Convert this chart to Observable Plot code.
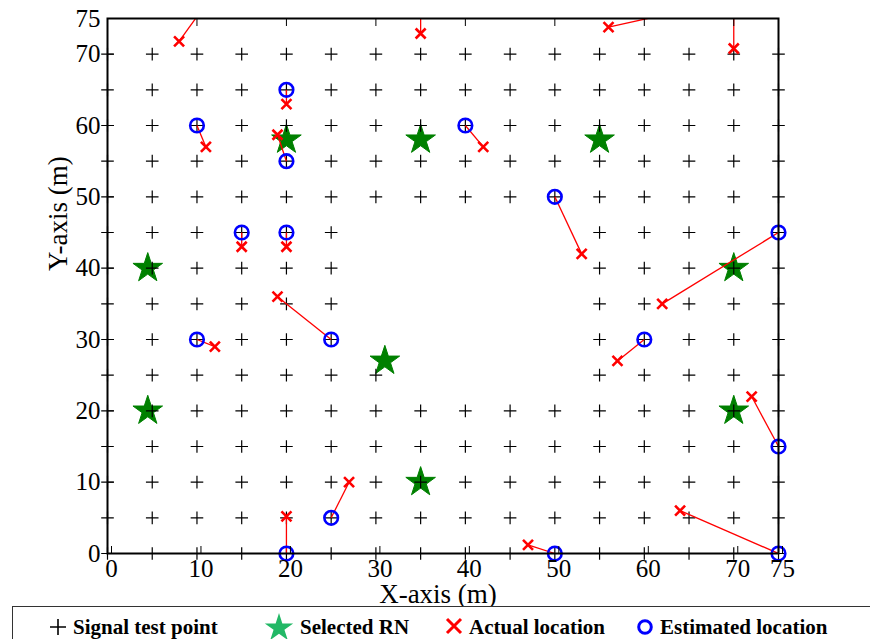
<!DOCTYPE html>
<html>
<head>
<meta charset="utf-8">
<script src="https://cdn.jsdelivr.net/npm/d3@7"></script>
<script src="https://cdn.jsdelivr.net/npm/@observablehq/plot@0.6"></script>
<style>
  html, body { margin: 0; padding: 0; background: #fff; }
  body { width: 870px; height: 639px; overflow: hidden; position: relative; font-family: 'Liberation Serif', serif; }
  #chart { position: absolute; left: 0; top: 0; }
  #chart svg text { font-family: 'Liberation Serif', serif; }
  #legend { position: absolute; left: 12px; top: 606px; width: 900px; height: 60px; border: 1.5px solid #333; box-sizing: border-box; background: #fff; }
  .item { position: absolute; top: 0; height: 40px; display: flex; align-items: center; }
  .item span { font-family: 'Liberation Serif', serif; font-weight: bold; font-size: 21px; color: #000; margin-left: 6px; white-space: nowrap; }
</style>
</head>
<body>
<div id="chart"></div>
<div id="legend"></div>
<script>
// Axis ticks (m)
const xTickValues = [0, 10, 20, 30, 40, 50, 60, 70, 75];
const yTickValues = [0, 10, 20, 30, 40, 50, 60, 70, 75];

// Signal test point grid (m)
const gridX = [0, 5, 10, 15, 20, 25, 30, 35, 40, 45, 50, 55, 60, 65, 70, 75];
const gridY = [0, 5, 10, 15, 20, 25, 30, 35, 40, 45, 50, 55, 60, 65, 70];
// Cells without a test point (open area)
const emptyX = [30, 35, 40, 45, 50, 30, 35, 40, 45, 50, 30, 35, 40, 45, 50, 30, 35, 40, 45, 50, 35, 40, 45, 50];
const emptyY = [45, 45, 45, 45, 45, 40, 40, 40, 40, 40, 35, 35, 35, 35, 35, 30, 30, 30, 30, 30, 25, 25, 25, 25];

// Selected reference nodes
const rnX = [4.5, 4.5, 20, 35, 55, 70, 70, 31, 35];
const rnY = [40, 20, 58, 58, 58, 40, 20, 27, 10];

// Actual and estimated locations of the test targets
const actualX = [8, 11, 20, 19, 42, 35, 56, 70, 53, 15, 20, 19, 12, 62, 57, 72, 64, 47, 27, 20];
const actualY = [71.8, 57, 63, 58.7, 57, 72.9, 73.8, 70.8, 42, 43, 43, 36, 29, 35, 27, 22, 6, 1.2, 10, 5.2];
const estX = [11, 10, 20, 20, 40, 35, 64, 70, 50, 15, 20, 25, 10, 75, 60, 75, 75, 50, 25, 20];
const estY = [77, 60, 65, 55, 60, 78, 76, 78, 50, 45, 45, 30, 30, 45, 30, 15, 0, 0, 5, 0];

const empty = new Set(emptyX.map((x, i) => `${x},${emptyY[i]}`));
const testPoints = [];
for (const x of gridX) for (const y of gridY) if (!empty.has(`${x},${y}`)) testPoints.push({x, y});
const nodes = rnX.map((x, i) => ({x, y: rnY[i]}));
const pairs = actualX.map((x, i) => ({ax: x, ay: actualY[i], ex: estX[i], ey: estY[i]}));

const RED = "#ff0000", BLUE = "#0000ff", GREEN = "#008000", LEGEND_GREEN = "#22b866";
const SERIF = "'Liberation Serif', serif";

// Stroked plus and times markers
const plusSymbol = {
  draw(ctx, size) {
    const r = Math.sqrt(size / Math.PI);
    ctx.moveTo(-r, 0); ctx.lineTo(r, 0);
    ctx.moveTo(0, -r); ctx.lineTo(0, r);
  }
};
const timesSymbol = {
  draw(ctx, size) {
    const r = Math.sqrt(size / Math.PI);
    ctx.moveTo(-r, -r); ctx.lineTo(r, r);
    ctx.moveTo(-r, r); ctx.lineTo(r, -r);
  }
};

const chart = Plot.plot({
  width: 870,
  height: 612,
  marginLeft: 107,
  marginRight: 92,
  marginTop: 18,
  marginBottom: 59,
  style: {fontFamily: SERIF, fontSize: "25px", color: "#000", background: "#fff", overflow: "visible"},
  x: {domain: [0, 75], label: null},
  y: {domain: [0, 75], label: null},
  marks: [
    Plot.dot(nodes, {x: "x", y: "y", symbol: "star", r: 9.3, fill: GREEN, stroke: GREEN, strokeWidth: 1}),
    Plot.dot(testPoints, {x: "x", y: "y", symbol: plusSymbol, r: 6.3, stroke: "#000", strokeWidth: 1.2, fill: "none"}),
    Plot.link(pairs, {x1: "ax", y1: "ay", x2: "ex", y2: "ey", stroke: RED, strokeWidth: 1.3, clip: true}),
    Plot.dot(pairs.filter(d => d.ey <= 75), {x: "ex", y: "ey", r: 6.8, stroke: BLUE, strokeWidth: 2.6, fill: "none"}),
    Plot.dot(pairs, {x: "ax", y: "ay", symbol: timesSymbol, r: 5, stroke: RED, strokeWidth: 2.6, fill: "none"}),
    Plot.axisX({ticks: xTickValues, tickSize: -7, tickPadding: 13, dx: 4, tickFormat: d => d, fontFamily: SERIF}),
    Plot.axisX({anchor: "top", ticks: xTickValues, tickSize: -7, tickFormat: () => ""}),
    Plot.axisY({ticks: yTickValues, tickSize: -7, tickPadding: 14, tickFormat: d => d, fontFamily: SERIF}),
    Plot.frame({stroke: "#000", strokeWidth: 2}),
    Plot.text(["X-axis (m)"], {frameAnchor: "bottom", text: d => d, dx: -5, dy: 49, lineAnchor: "bottom", fontSize: 27, fontFamily: SERIF}),
    Plot.text(["Y-axis (m)"], {frameAnchor: "left", text: d => d, rotate: -90, dx: -49, dy: -15, lineAnchor: "middle", fontSize: 27, fontFamily: SERIF})
  ]
});
document.getElementById("chart").appendChild(chart);

// Legend row below the chart
const legendItems = [
  {label: "Signal test point", left: 36, draw: g => g.append("path").attr("d", "M1,10H17M9,2V18").attr("stroke", "#000").attr("stroke-width", 1.6)},
  {label: "Selected RN", left: 251, draw: g => g.append("path").attr("d", d3.symbol(d3.symbolStar, 250)()).attr("transform", "translate(15,16)").attr("fill", LEGEND_GREEN)},
  {label: "Actual location", left: 432, draw: g => g.append("path").attr("d", "M2,2L16,16M2,16L16,2").attr("stroke", RED).attr("stroke-width", 3)},
  {label: "Estimated location", left: 623, draw: g => g.append("circle").attr("cx", 9).attr("cy", 10).attr("r", 6.3).attr("fill", "none").attr("stroke", BLUE).attr("stroke-width", 3)}
];
const legend = d3.select("#legend");
for (const item of legendItems) {
  const div = legend.append("div").attr("class", "item").style("left", item.left + "px");
  const star = item.label === "Selected RN";
  const svg = div.append("svg").attr("width", star ? 30 : 18).attr("height", star ? 30 : 20);
  item.draw(svg);
  div.append("span").text(item.label);
}
</script>
</body>
</html>
